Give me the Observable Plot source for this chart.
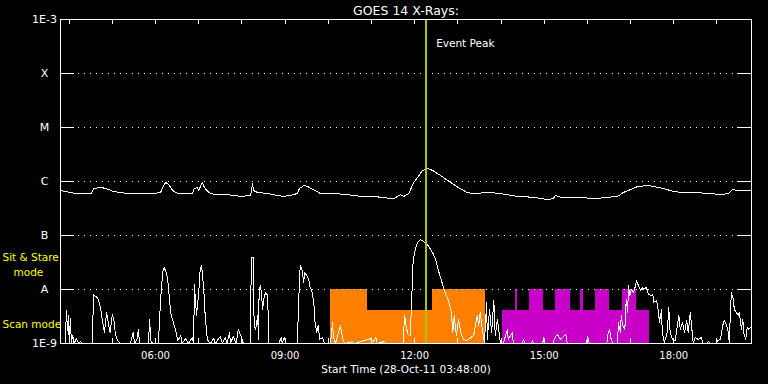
<!DOCTYPE html>
<html><head><meta charset="utf-8">
<script src="https://cdn.jsdelivr.net/npm/d3@7"></script>
<script src="https://cdn.jsdelivr.net/npm/@observablehq/plot@0.6"></script>
<style>html,body{margin:0;padding:0;background:#000;}#chart{width:768px;height:384px;}</style>
</head><body><div id="chart"></div>
<script>
const day = "2011-10-28";
const xStart = "03:48", xEnd = "19:48";
const title = "GOES 14 X-Rays:";
const xAxisTitle = "Start Time (28-Oct-11 03:48:00)";
const yTickValues = [1e-9, 1e-8, 1e-7, 1e-6, 1e-5, 1e-4, 1e-3];
const yTickLabels = ["1E-9", "A", "B", "C", "M", "X", "1E-3"];
const xLabelTimes = ["06:00", "09:00", "12:00", "15:00", "18:00"];
const hourTicks = ["04:00","05:00","06:00","07:00","08:00","09:00","10:00","11:00","12:00","13:00","14:00","15:00","16:00","17:00","18:00","19:00"];
const eventPeakTime = "12:16";
const eventLabel = "Event Peak";

// long channel (1-8 A)
const upperTimes = ["03:48","04:02","04:09","04:23","04:31","04:34","04:41","04:46","04:55","05:02","05:11","05:21","05:39","05:57","06:07","06:10","06:14","06:18","06:24","06:31","06:39","06:51","06:54","06:58","07:00","07:05","07:08","07:14","07:23","07:40","07:58","08:12","08:15","08:16","08:22","08:36","08:44","08:58","09:07","09:17","09:20","09:26","09:31","09:39","09:49","10:07","10:27","10:45","11:03","11:13","11:31","11:40","11:45","11:52","11:58","12:04","12:11","12:18","12:25","12:36","12:50","13:01","13:13","13:20","13:45","13:59","14:23","14:45","15:05","15:12","15:16","15:23","15:32","15:50","16:09","16:28","16:42","16:50","17:00","17:10","17:24","17:32","17:46","18:00","18:14","18:27","18:51","19:05","19:16","19:22","19:29","19:48"];
const upperFlux = [6.8e-7,6.25e-7,6.0e-7,6.0e-7,6.0e-7,7.4e-7,7.7e-7,7.7e-7,7.1e-7,6.5e-7,6.25e-7,6.0e-7,6.0e-7,6.0e-7,6.25e-7,7.7e-7,9.6e-7,8.8e-7,6.8e-7,6.0e-7,6.0e-7,6.0e-7,7.4e-7,7.7e-7,6.8e-7,9.6e-7,7.7e-7,6.25e-7,5.7e-7,5.7e-7,5.3e-7,5.5e-7,9.2e-7,6.8e-7,6.25e-7,6.0e-7,5.7e-7,5.3e-7,5.5e-7,6.0e-7,7.4e-7,8.4e-7,8.1e-7,7.1e-7,6.0e-7,6.0e-7,5.7e-7,5.3e-7,5.3e-7,5.1e-7,4.8e-7,5.7e-7,5.3e-7,6.0e-7,9.2e-7,1.19e-6,1.6e-6,1.74e-6,1.6e-6,1.29e-6,9.6e-7,7.7e-7,6.25e-7,6.0e-7,6.25e-7,6.0e-7,5.3e-7,5.1e-7,4.6e-7,4.8e-7,5.5e-7,5.1e-7,5.1e-7,5.1e-7,4.8e-7,5.1e-7,5.3e-7,6.25e-7,7.1e-7,8.1e-7,8.4e-7,8.1e-7,7.4e-7,6.5e-7,6.25e-7,6.25e-7,6.0e-7,5.7e-7,6.0e-7,7.1e-7,6.8e-7,6.8e-7];

// short channel (0.5-4 A), flux in units of 1e-9 W/m^2
const lowerTimes = ["03:48","03:55","03:56","03:58","03:59","04:00","04:02","04:03","04:05","04:07","04:10","04:13","04:16","04:19","04:32","04:34","04:37","04:39","04:41","04:44","04:46","04:49","04:52","04:55","04:57","05:00","05:03","05:04","05:07","05:11","05:25","05:29","05:31","05:35","05:36","05:38","05:50","05:52","05:53","05:56","06:04","06:07","06:10","06:12","06:15","06:17","06:19","06:21","06:24","06:28","06:31","06:35","06:37","06:42","06:46","06:51","06:53","06:54","06:57","07:00","07:02","07:04","07:07","07:09","07:12","07:16","07:21","07:23","07:30","07:33","07:37","07:39","07:43","07:44","07:48","07:52","07:55","07:59","08:02","08:12","08:13","08:16","08:17","08:19","08:22","08:23","08:24","08:26","08:29","08:30","08:33","08:36","08:37","08:51","08:55","08:56","08:59","09:01","09:17","09:19","09:21","09:23","09:26","09:27","09:30","09:33","09:34","09:37","09:40","09:41","09:44","09:46","09:48","09:52","09:55","10:03","10:05","10:06","10:07","10:10","10:17","10:20","10:23","10:34","10:36","10:59","11:01","11:06","11:08","11:18","11:21","11:44","11:46","11:49","11:51","11:54","11:57","11:58","12:01","12:04","12:08","12:12","12:19","12:25","12:29","12:33","12:36","12:40","12:44","12:47","12:51","12:53","12:55","12:58","13:01","13:04","13:08","13:11","13:15","13:22","13:27","13:29","13:31","13:34","13:37","13:40","13:41","13:44","13:47","13:50","13:52","13:55","13:59","14:03","14:09","14:10","14:16","14:17","14:30","14:31","14:33","14:42","14:44","14:45","14:58","14:59","15:00","15:12","15:13","15:18","15:23","15:30","15:32","15:59","16:00","16:03","16:27","16:29","16:31","16:33","16:36","16:42","16:43","16:46","16:47","16:49","16:52","16:54","16:56","16:57","16:59","17:01","17:04","17:07","17:08","17:11","17:14","17:17","17:18","17:22","17:25","17:28","17:31","17:32","17:36","17:39","17:40","17:43","17:44","17:47","17:51","17:53","17:55","17:58","18:02","18:07","18:09","18:12","18:15","18:18","18:20","18:23","18:26","18:27","18:30","18:34","18:38","18:41","18:47","18:48","18:51","18:59","19:01","19:05","19:08","19:10","19:13","19:16","19:17","19:20","19:23","19:24","19:27","19:30","19:31","19:34","19:36","19:37","19:40","19:42","19:44","19:47"];
const lowerNano = [1,1,4.08,1.74,3.3,1.24,2.9,1,1.41,1,1.24,1,1.09,1,1,8.07,7.4,7.1,6.25,4.26,2.78,1.6,3.75,2.15,1.6,3.44,2.45,1.53,1.14,1,1,1.6,1,1.24,1.82,1,1,2.78,1.14,1,1,6.25,20.7,25.5,20.7,14.7,7.74,3.75,2.67,1.74,1.14,1.41,1,1.24,1,1.29,1,12.3,3.3,8.79,22.5,27.8,10,3.3,1.19,1,1.24,1,1.35,1,1.29,1,1.6,1,1.35,1,1.82,1.35,1,1,39,39,2.15,1.82,3.3,1.19,10,11.8,4.26,6.52,8.79,7.74,1,1,1.29,1,1.29,1,1,6.52,27.8,25.5,13.5,20.7,18.1,15.3,11.8,9.58,5.74,2.78,1.6,2.15,1.19,1.29,1,1,1.82,2.45,1.35,1,2.15,1.19,1,1.09,1,1.24,1,1.29,1,1.09,1,1,3.3,1.82,1.47,1.41,15.3,36,55,74,84,78,65,48,36,22.5,16.7,10.9,7.74,6.25,3.75,1.6,3.3,1.41,2.78,1.6,1.19,1.14,1.19,1.41,3.3,2.15,3.75,1.82,1.04,5.74,1.19,4.26,1.6,6.25,1.41,2.78,1.04,1,1.82,1.19,1.6,1,1,1.19,1,1,1.14,1,1,1.29,1,1,1.14,1.47,1.19,1.47,1,1,1.35,1,1,1.6,1.82,1.19,1,1,2.45,1.6,3.3,2.15,1.82,6.52,3.75,11.8,7.74,10,8.79,11.8,14.7,11.8,9.58,10.9,10,10.9,8.07,7.74,8.07,5.74,6.25,3.75,2.45,4.26,1.6,1.04,1.6,4.64,1.6,1.19,1.14,3.3,1.82,2.45,1.6,2.67,1.6,3.75,1.41,1.04,1.29,1.19,1.29,1,1,1.09,1,1,1.14,1.19,2.15,2.67,2.25,1.6,1.04,8.79,6.52,4.26,3.75,3.3,3.75,1.82,2.78,1.6,1.19,1.98,1.82,1.98];
const nano = 1e-9;

// instrument mode bands
const highLevel = 1e-8, lowLevel = 4.1e-9;
const orangeStart = ["10:03", "10:54", "12:25"];
const orangeEnd   = ["10:54", "12:25", "13:38"];
const orangeLevel = [highLevel, lowLevel, highLevel];
const magentaStart = ["14:02", "14:20", "14:40", "15:16", "15:50", "16:11", "16:49"];
const magentaEnd   = ["17:26", "14:23", "14:59", "15:36", "15:55", "16:31", "17:08"];
const magentaLevel = [lowLevel, highLevel, highLevel, highLevel, highLevel, highLevel, highLevel];

const modeLabelSit = "Sit & Stare", modeLabelSit2 = "mode", modeLabelScan = "Scan mode";
const modeLabelSitY = 3.9e-8, modeLabelSit2Y = 2.05e-8, modeLabelScanY = 2.25e-9;

const t = s => new Date(`${day}T${s}:00Z`);
const upper = upperTimes.map((s, i) => ({time: t(s), flux: upperFlux[i]}));
const lower = lowerTimes.map((s, i) => ({time: t(s), flux: lowerNano[i] * nano}));
const orange = orangeStart.map((s, i) => ({x1: t(s), x2: t(orangeEnd[i]), level: orangeLevel[i]}));
const magenta = magentaStart.map((s, i) => ({x1: t(s), x2: t(magentaEnd[i]), level: magentaLevel[i]}));

const W = 768, H = 384, mL = 60, mR = 17, mT = 19, mB = 41;
const pw = W - mL - mR, ph = H - mT - mB;
const gridVals = yTickValues.slice(1, -1);
const white = "#ffffff", yellow = "#ffff00";
const font = "'DejaVu Sans', sans-serif";

const chart = Plot.plot({
  width: W, height: H,
  marginLeft: mL, marginRight: mR, marginTop: mT, marginBottom: mB,
  style: {background: "#000", color: white, fontFamily: font, fontSize: "10px"},
  x: {type: "utc", domain: [t(xStart), t(xEnd)], axis: null},
  y: {type: "log", domain: [yTickValues[0], yTickValues[yTickValues.length - 1]], axis: null},
  marks: [
    Plot.rectY(orange, {x1: "x1", x2: "x2", y1: yTickValues[0], y2: "level", fill: "#ff8000", shapeRendering: "crispEdges"}),
    Plot.rectY(magenta, {x1: "x1", x2: "x2", y1: yTickValues[0], y2: "level", fill: "#c800c8", shapeRendering: "crispEdges"}),
    Plot.ruleY(gridVals, {stroke: white, strokeDasharray: "1,5", shapeRendering: "crispEdges"}),
    Plot.ruleY(gridVals, {stroke: white, insetRight: pw - 14, shapeRendering: "crispEdges"}),
    Plot.ruleY(gridVals, {stroke: white, insetLeft: pw - 14, shapeRendering: "crispEdges"}),
    Plot.ruleX(hourTicks, {x: t, stroke: white, insetBottom: ph - 5, shapeRendering: "crispEdges"}),
    Plot.ruleX(hourTicks, {x: t, stroke: white, insetTop: ph - 5, shapeRendering: "crispEdges"}),
    Plot.line(lower, {x: "time", y: "flux", stroke: white, strokeWidth: 1, clip: true, shapeRendering: "crispEdges"}),
    Plot.line(upper, {x: "time", y: "flux", stroke: white, strokeWidth: 1, clip: true, shapeRendering: "crispEdges"}),
    Plot.ruleX([eventPeakTime], {x: t, stroke: "#a0cc00", strokeWidth: 2, shapeRendering: "crispEdges"}),
    Plot.frame({stroke: white, shapeRendering: "crispEdges"}),
    Plot.text([title], {frameAnchor: "top", lineAnchor: "middle", dy: -9, fontSize: 12.5, fill: white}),
    Plot.text([xAxisTitle], {frameAnchor: "bottom", lineAnchor: "middle", dy: 26, fontSize: 10.5, fill: white}),
    Plot.text(xLabelTimes, {x: t, text: d => d, frameAnchor: "bottom", lineAnchor: "middle", dy: 12, fontSize: 10, fill: white}),
    Plot.text(yTickValues, {y: d => d, text: (d, i) => yTickLabels[i], frameAnchor: "left", lineAnchor: "middle", dx: -16, textAnchor: "middle", fontSize: 11, fill: white}),
    Plot.text([eventPeakTime], {x: t, text: () => eventLabel, frameAnchor: "top", lineAnchor: "middle", dy: 24, dx: 10, textAnchor: "start", fontSize: 10.5, fill: white}),
    Plot.text([modeLabelSitY], {y: d => d, text: () => modeLabelSit, frameAnchor: "left", lineAnchor: "middle", dx: -58, textAnchor: "start", fontSize: 10.5, fill: yellow}),
    Plot.text([modeLabelSit2Y], {y: d => d, text: () => modeLabelSit2, frameAnchor: "left", lineAnchor: "middle", dx: -47, textAnchor: "start", fontSize: 10.5, fill: yellow}),
    Plot.text([modeLabelScanY], {y: d => d, text: () => modeLabelScan, frameAnchor: "left", lineAnchor: "middle", dx: -58, textAnchor: "start", fontSize: 10.5, fill: yellow})
  ]
});
document.getElementById("chart").appendChild(chart);
</script>
</body></html>
